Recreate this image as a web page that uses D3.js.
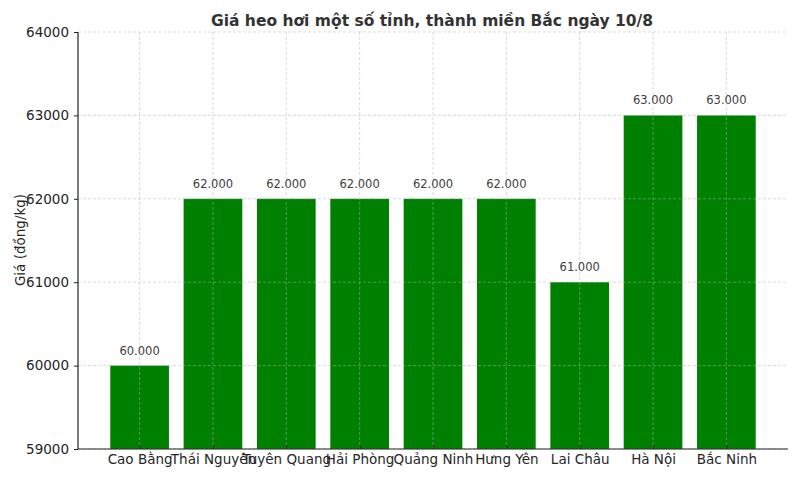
<!DOCTYPE html>
<html><head><meta charset="utf-8">
<script src="https://cdn.jsdelivr.net/npm/d3@7"></script>
<style>body{margin:0;background:#fff;font-family:"DejaVu Sans",sans-serif;}</style>
</head><body>
<svg id="c" width="800" height="480"></svg>
<script>
const categories = ["Cao Bằng","Thái Nguyên","Tuyên Quang","Hải Phòng","Quảng Ninh","Hưng Yên","Lai Châu","Hà Nội","Bắc Ninh"];
const prices = [60000,62000,62000,62000,62000,62000,61000,63000,63000];
const yTicks = [59000,60000,61000,62000,63000,64000];
const title = "Giá heo hơi một số tỉnh, thành miền Bắc ngày 10/8";
const yLabel = "Giá (đồng/kg)";

const svg = d3.select("#c");
const L=78,R=788,T=32,B=449;
const x = d3.scaleLinear().domain([-0.84, categories.length-1+0.84]).range([L,R]);
const y = d3.scaleLinear().domain([59000,64000]).range([B,T]);
const bw = x(0.4)-x(-0.4);
const fmt = v => d3.format(",")(v).replace(/,/g,".");

// bars
svg.selectAll("rect.bar").data(prices).join("rect")
  .attr("x",(d,i)=>x(i)-bw/2).attr("y",d=>y(d))
  .attr("width",bw).attr("height",d=>B-y(d)).attr("fill","#008000");

// grid
const g = svg.append("g").attr("stroke","#b0b0b0").attr("stroke-opacity",0.6).attr("stroke-dasharray","3,2").attr("stroke-width",0.8);
yTicks.forEach(t=>g.append("line").attr("x1",L).attr("x2",R).attr("y1",y(t)).attr("y2",y(t)));
categories.forEach((c,i)=>g.append("line").attr("x1",x(i)).attr("x2",x(i)).attr("y1",T).attr("y2",B));

// axes
const ya = svg.append("g").attr("transform",`translate(${L},0)`)
  .call(d3.axisLeft(y).tickValues(yTicks).tickFormat(d3.format("d")).tickSize(4).tickPadding(5));
const xa = svg.append("g").attr("transform",`translate(0,${B})`)
  .call(d3.axisBottom(x).tickValues(d3.range(categories.length)).tickFormat(i=>categories[i]).tickSize(-4).tickPadding(4));
[ya,xa].forEach(a=>{
  a.select(".domain").attr("stroke","#222").attr("stroke-width",1.2);
  a.selectAll(".tick line").attr("stroke","#222");
  a.selectAll("text").attr("font-family","DejaVu Sans").attr("font-size",13.5).attr("fill","#262626");
});
ya.select(".domain").attr("d",`M0,${T}V${B}`);
xa.select(".domain").attr("d",`M${L},0H${R}`);
xa.selectAll("text").attr("y",4).attr("dy","0.85em");

// value labels
svg.selectAll("text.val").data(prices).join("text").attr("class","val")
  .attr("x",(d,i)=>x(i)).attr("y",d=>y(d)-11)
  .attr("text-anchor","middle").attr("font-size",11.5).attr("fill","#404040")
  .text(fmt);

// title
svg.append("text").attr("x",432).attr("y",26).attr("text-anchor","middle")
  .attr("font-size",15.5).attr("font-weight","bold").attr("fill","#333").text(title);
// y label
svg.append("text").attr("transform","translate(25,240) rotate(-90)").attr("text-anchor","middle")
  .attr("font-size",13.5).attr("fill","#262626").text(yLabel);
</script>
</body></html>
